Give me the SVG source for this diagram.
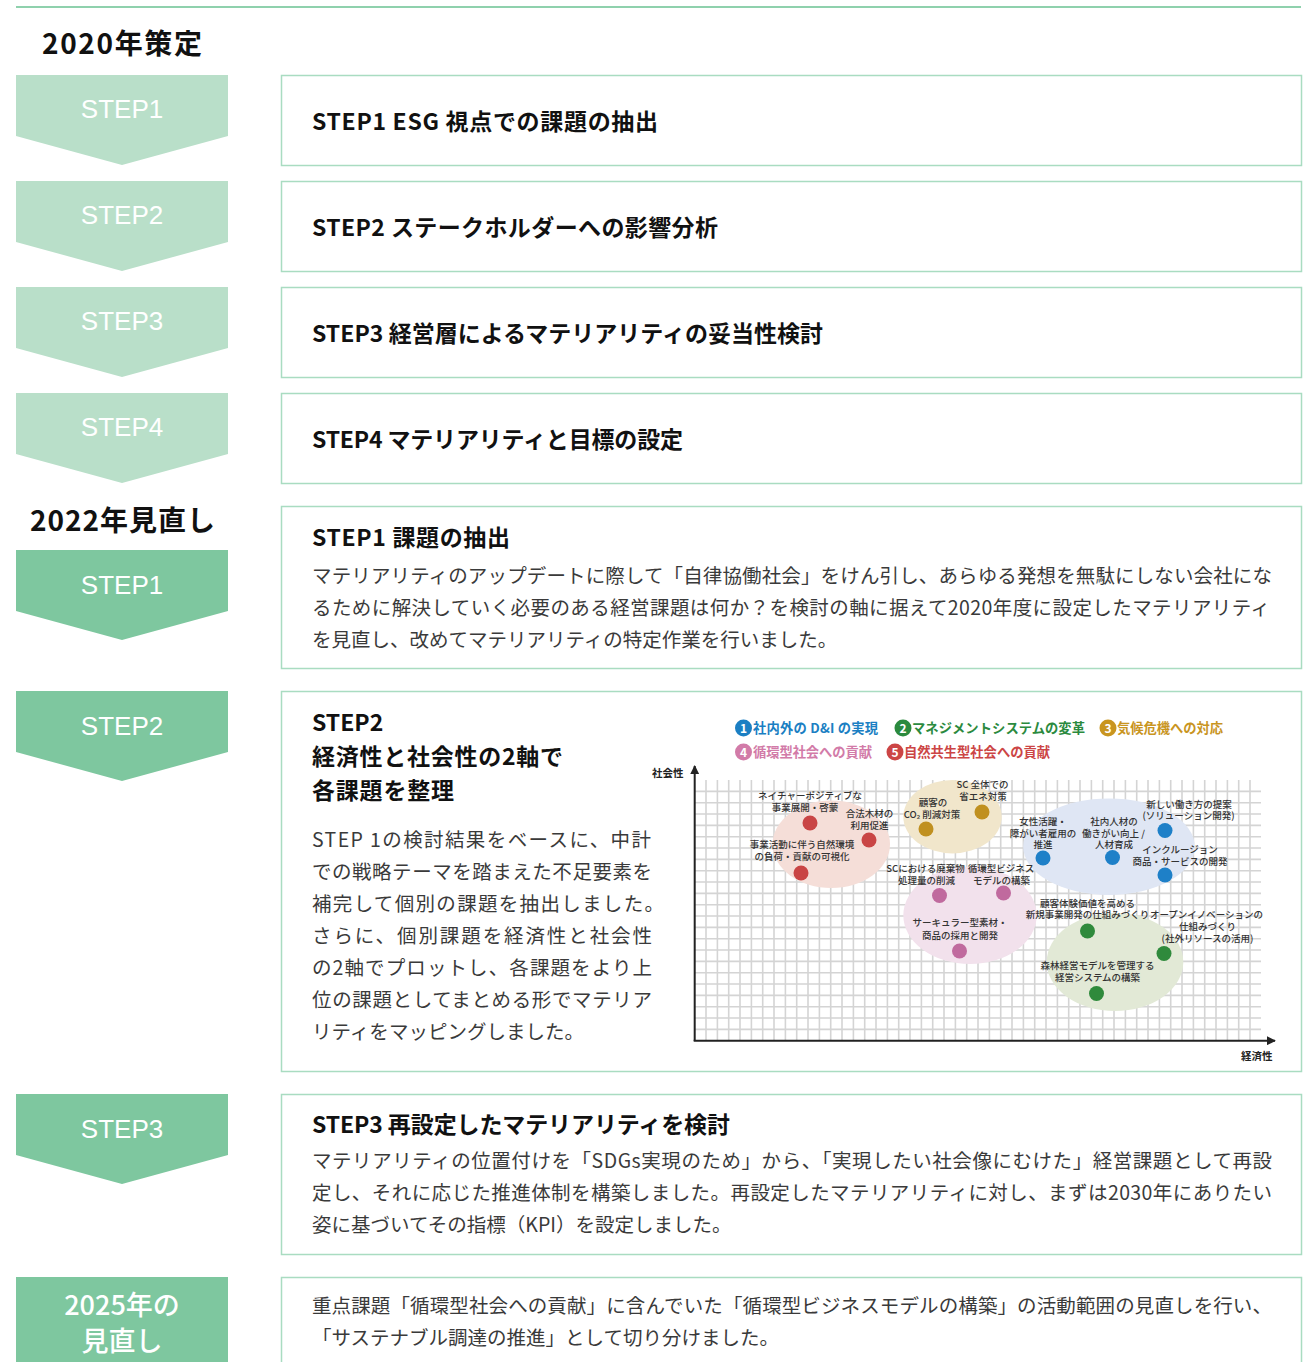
<svg xmlns="http://www.w3.org/2000/svg" width="1307" height="1362" viewBox="0 0 1307 1362">
<style>
text{font-family:'Noto Sans CJK JP','Noto Sans',sans-serif}
.chevL{fill:#b9dfc9}
.chevD{fill:#7ec79f}
.box{fill:#fff;stroke:#a9dcc1;stroke-width:1.5}
.cl{font-family:'Liberation Sans',Arial,sans-serif;font-size:26px;fill:#fff;text-anchor:middle}
.yr{font-size:28px;font-weight:700;fill:#111}
.tt{font-size:23px;font-weight:700;fill:#111}
.bd{font-size:19.5px;fill:#3a3a3a}
.lg{font-size:13.3px;font-weight:700}
.num{font-size:12px;font-weight:700;fill:#fff;text-anchor:middle}
.lb{font-size:9.5px;font-weight:500;fill:#333;text-anchor:middle}
.ax{font-size:10.5px;font-weight:700;fill:#222}
.grid{fill:none;stroke:#d4d4d4;stroke-width:1.6}
.axis{fill:none;stroke:#222;stroke-width:2}
</style>
<defs>
<marker id="arr" viewBox="0 0 10 10" refX="9" refY="5" markerWidth="4.5" markerHeight="4.5" orient="auto">
<path d="M0 0L10 5L0 10Z" fill="#222"/>
</marker>
</defs>
<rect width="1307" height="1362" fill="#fff"/>
<line x1="16" y1="7" x2="1301" y2="7" stroke="#8fd1ad" stroke-width="2"/>

<g id="heading-2020"><text class="yr" x="42" y="54" textLength="160">2020年策定</text></g>

<g id="s2020-1">
<path class="chevL" d="M16 75H228V136L122 165L16 136Z"/>
<text class="cl" x="122" y="118">STEP1</text>
<rect class="box" x="281.5" y="75.5" width="1020" height="90"/>
<text class="tt" x="312" y="130" textLength="346">STEP1 ESG 視点での課題の抽出</text>
</g>
<g id="s2020-2">
<path class="chevL" d="M16 181H228V242L122 271L16 242Z"/>
<text class="cl" x="122" y="224">STEP2</text>
<rect class="box" x="281.5" y="181.5" width="1020" height="90"/>
<text class="tt" x="312" y="236" textLength="406">STEP2 ステークホルダーへの影響分析</text>
</g>
<g id="s2020-3">
<path class="chevL" d="M16 287H228V348L122 377L16 348Z"/>
<text class="cl" x="122" y="330">STEP3</text>
<rect class="box" x="281.5" y="287.5" width="1020" height="90"/>
<text class="tt" x="312" y="342" textLength="511">STEP3 経営層によるマテリアリティの妥当性検討</text>
</g>
<g id="s2020-4">
<path class="chevL" d="M16 393H228V454L122 483L16 454Z"/>
<text class="cl" x="122" y="436">STEP4</text>
<rect class="box" x="281.5" y="393.5" width="1020" height="90"/>
<text class="tt" x="312" y="448" textLength="371">STEP4 マテリアリティと目標の設定</text>
</g>

<g id="heading-2022"><text class="yr" x="30" y="531" textLength="185">2022年見直し</text></g>

<g id="s2022-1">
<path class="chevD" d="M16 550H228V611L122 640L16 611Z"/>
<text class="cl" x="122" y="594">STEP1</text>
<rect class="box" x="281.5" y="506.5" width="1020" height="162"/>
<text class="tt" x="312" y="546" textLength="198">STEP1 課題の抽出</text>
<text class="bd" x="312" y="583" textLength="960">マテリアリティのアップデートに際して「自律協働社会」をけん引し、あらゆる発想を無駄にしない会社にな</text>
<text class="bd" x="312" y="615" textLength="958">るために解決していく必要のある経営課題は何か？を検討の軸に据えて2020年度に設定したマテリアリティ</text>
<text class="bd" x="312" y="647">を見直し、改めてマテリアリティの特定作業を行いました。</text>
</g>

<g id="s2022-2">
<path class="chevD" d="M16 691H228V752L122 781L16 752Z"/>
<text class="cl" x="122" y="735">STEP2</text>
<rect class="box" x="281.5" y="691.5" width="1020" height="380"/>
<text class="tt" x="312" y="731">STEP2</text>
<text class="tt" x="312" y="765" textLength="251">経済性と社会性の2軸で</text>
<text class="tt" x="312" y="799" textLength="142">各課題を整理</text>
<text class="bd" x="312" y="847" textLength="339">STEP 1の検討結果をベースに、中計</text>
<text class="bd" x="312" y="879" textLength="340">での戦略テーマを踏まえた不足要素を</text>
<text class="bd" x="312" y="911" textLength="352">補完して個別の課題を抽出しました。</text>
<text class="bd" x="312" y="943" textLength="340">さらに、個別課題を経済性と社会性</text>
<text class="bd" x="312" y="975" textLength="340">の2軸でプロットし、各課題をより上</text>
<text class="bd" x="312" y="1007" textLength="340">位の課題としてまとめる形でマテリア</text>
<text class="bd" x="312" y="1039" textLength="272">リティをマッピングしました。</text>
</g>

<g id="chart">
<g id="legend">
<circle cx="743.5" cy="728" r="8.5" fill="#1b7fc3"/><text class="num" x="743.5" y="732.5">1</text>
<text class="lg" x="753" y="733" fill="#1b7fc3" textLength="125">社内外の D&amp;I の実現</text>
<circle cx="903" cy="728" r="8.5" fill="#2b8a3e"/><text class="num" x="903" y="732.5">2</text>
<text class="lg" x="912" y="733" fill="#2b8a3e" textLength="173">マネジメントシステムの変革</text>
<circle cx="1108" cy="728" r="8.5" fill="#c9951f"/><text class="num" x="1108" y="732.5">3</text>
<text class="lg" x="1117" y="733" fill="#c9951f" textLength="106">気候危機への対応</text>
<circle cx="743.5" cy="752" r="8.5" fill="#d27ba8"/><text class="num" x="743.5" y="756.5">4</text>
<text class="lg" x="753" y="757" fill="#d27ba8" textLength="119">循環型社会への貢献</text>
<circle cx="895" cy="752" r="8.5" fill="#cc4545"/><text class="num" x="895" y="756.5">5</text>
<text class="lg" x="904" y="757" fill="#cc4545" textLength="146">自然共生型社会への貢献</text>
</g>
<path class="grid" d="M706 780V1040M717.4 780V1040M728.7 780V1040M740 780V1040M751.4 780V1040M762.7 780V1040M774 780V1040M785.4 780V1040M796.7 780V1040M808 780V1040M819.4 780V1040M830.7 780V1040M842 780V1040M853.4 780V1040M864.7 780V1040M876 780V1040M887.4 780V1040M898.7 780V1040M910 780V1040M921.4 780V1040M932.7 780V1040M944 780V1040M955.4 780V1040M966.7 780V1040M978 780V1040M989.4 780V1040M1000.7 780V1040M1012 780V1040M1023.4 780V1040M1034.7 780V1040M1046 780V1040M1057.4 780V1040M1068.7 780V1040M1080 780V1040M1091.4 780V1040M1102.7 780V1040M1114 780V1040M1125.4 780V1040M1136.7 780V1040M1148 780V1040M1159.4 780V1040M1170.7 780V1040M1182 780V1040M1193.4 780V1040M1204.7 780V1040M1216 780V1040M1227.4 780V1040M1238.7 780V1040M1250 780V1040M695 1029.4H1261M695 1018H1261M695 1006.7H1261M695 995.4H1261M695 984H1261M695 972.7H1261M695 961.4H1261M695 950H1261M695 938.7H1261M695 927.4H1261M695 916H1261M695 904.7H1261M695 893.4H1261M695 882H1261M695 870.7H1261M695 859.4H1261M695 848H1261M695 836.7H1261M695 825.4H1261M695 814H1261M695 802.7H1261M695 791.4H1261"/>
<ellipse cx="831.3" cy="844.3" rx="58.7" ry="43.7" fill="#f5ded8"/>
<ellipse cx="952.5" cy="816.7" rx="49.2" ry="36.7" fill="#f1e6cb"/>
<ellipse cx="970" cy="915.3" rx="66.7" ry="48.7" fill="#f2e1ec"/>
<ellipse cx="1109" cy="846.7" rx="85.8" ry="48.3" fill="#dfe6f4"/>
<ellipse cx="1115" cy="962" rx="68.3" ry="49" fill="#e2e9d6"/>
<g id="labels">
<text class="lb" x="810" y="798.5">ネイチャーポジティブな</text>
<text class="lb" x="805" y="810.5">事業展開・啓蒙</text>
<text class="lb" x="869.5" y="817">合法木材の</text>
<text class="lb" x="869.5" y="829">利用促進</text>
<text class="lb" x="802" y="847.5">事業活動に伴う自然環境</text>
<text class="lb" x="802" y="860">の負荷・貢献の可視化</text>
<text class="lb" x="982.5" y="788">SC 全体での</text>
<text class="lb" x="983" y="799.5">省エネ対策</text>
<text class="lb" x="933" y="805.5">顧客の</text>
<text class="lb" x="932" y="817.5">CO₂ 削減対策</text>
<text class="lb" x="1043" y="825">女性活躍・</text>
<text class="lb" x="1043" y="836.5">障がい者雇用の</text>
<text class="lb" x="1043" y="848">推進</text>
<text class="lb" x="1114" y="825">社内人材の</text>
<text class="lb" x="1113.5" y="836.5">働きがい向上 /</text>
<text class="lb" x="1114" y="848">人材育成</text>
<text class="lb" x="1189" y="807.5">新しい働き方の提案</text>
<text class="lb" x="1188.5" y="819">(ソリューション開発)</text>
<text class="lb" x="1180" y="853">インクルージョン</text>
<text class="lb" x="1180" y="864.5">商品・サービスの開発</text>
<text class="lb" x="925.5" y="871.5">SCにおける廃棄物</text>
<text class="lb" x="926.5" y="884">処理量の削減</text>
<text class="lb" x="1001" y="871.5">循環型ビジネス</text>
<text class="lb" x="1001.5" y="884">モデルの構築</text>
<text class="lb" x="960" y="926">サーキュラー型素材・</text>
<text class="lb" x="960" y="938.5">商品の採用と開発</text>
<text class="lb" x="1087.5" y="906.5">顧客体験価値を高める</text>
<text class="lb" x="1087.5" y="918">新規事業開発の仕組みづくり</text>
<text class="lb" x="1206.5" y="918">オープンイノベーションの</text>
<text class="lb" x="1207.5" y="930">仕組みづくり</text>
<text class="lb" x="1207.5" y="941.5">(社外リソースの活用)</text>
<text class="lb" x="1097.5" y="969">森林経営モデルを管理する</text>
<text class="lb" x="1097.5" y="980.5">経営システムの構築</text>
</g>
<g id="dots">
<circle cx="810" cy="823" r="7.5" fill="#c94545"/>
<circle cx="869" cy="840" r="7.5" fill="#c94545"/>
<circle cx="801" cy="873" r="7.5" fill="#c94545"/>
<circle cx="926" cy="829" r="7.5" fill="#c09020"/>
<circle cx="982" cy="812" r="7.5" fill="#c09020"/>
<circle cx="1043" cy="858" r="7.5" fill="#1e80c8"/>
<circle cx="1112.5" cy="857.5" r="7.5" fill="#1e80c8"/>
<circle cx="1165" cy="830.5" r="7.5" fill="#1e80c8"/>
<circle cx="1165" cy="875" r="7.5" fill="#1e80c8"/>
<circle cx="939.5" cy="895.5" r="7.5" fill="#c06a9e"/>
<circle cx="1003.5" cy="893" r="7.5" fill="#c06a9e"/>
<circle cx="959.5" cy="951" r="7.5" fill="#c06a9e"/>
<circle cx="1087.5" cy="931" r="7.5" fill="#2f8a3c"/>
<circle cx="1164" cy="953.5" r="7.5" fill="#2f8a3c"/>
<circle cx="1096.5" cy="993.5" r="7.5" fill="#2f8a3c"/>
</g>
<text class="ax" x="652" y="777">社会性</text>
<text class="ax" x="1241" y="1060">経済性</text>
</g>

<g id="connectors">
<line class="axis" x1="694.7" y1="1041" x2="694.7" y2="766" marker-end="url(#arr)"/>
<line class="axis" x1="693.7" y1="1040.7" x2="1275" y2="1040.7" marker-end="url(#arr)"/>
</g>

<g id="s2022-3">
<path class="chevD" d="M16 1094H228V1155L122 1184L16 1155Z"/>
<text class="cl" x="122" y="1138">STEP3</text>
<rect class="box" x="281.5" y="1094.5" width="1020" height="160"/>
<text class="tt" x="312" y="1133" textLength="418">STEP3 再設定したマテリアリティを検討</text>
<text class="bd" x="312" y="1168" textLength="960">マテリアリティの位置付けを「SDGs実現のため」から、「実現したい社会像にむけた」経営課題として再設</text>
<text class="bd" x="312" y="1200" textLength="960">定し、それに応じた推進体制を構築しました。再設定したマテリアリティに対し、まずは2030年にありたい</text>
<text class="bd" x="312" y="1232">姿に基づいてその指標（KPI）を設定しました。</text>
</g>

<g id="s2025">
<rect x="16" y="1277" width="212" height="95" fill="#7ec79f"/>
<text x="122" y="1315" font-size="27" font-weight="500" fill="#fff" text-anchor="middle">2025年の</text>
<text x="122" y="1351" font-size="27" font-weight="500" fill="#fff" text-anchor="middle">見直し</text>
<rect class="box" x="281.5" y="1277.5" width="1020" height="100"/>
<text class="bd" x="312" y="1313" textLength="960">重点課題「循環型社会への貢献」に含んでいた「循環型ビジネスモデルの構築」の活動範囲の見直しを行い、</text>
<text class="bd" x="312" y="1345">「サステナブル調達の推進」として切り分けました。</text>
</g>
</svg>
